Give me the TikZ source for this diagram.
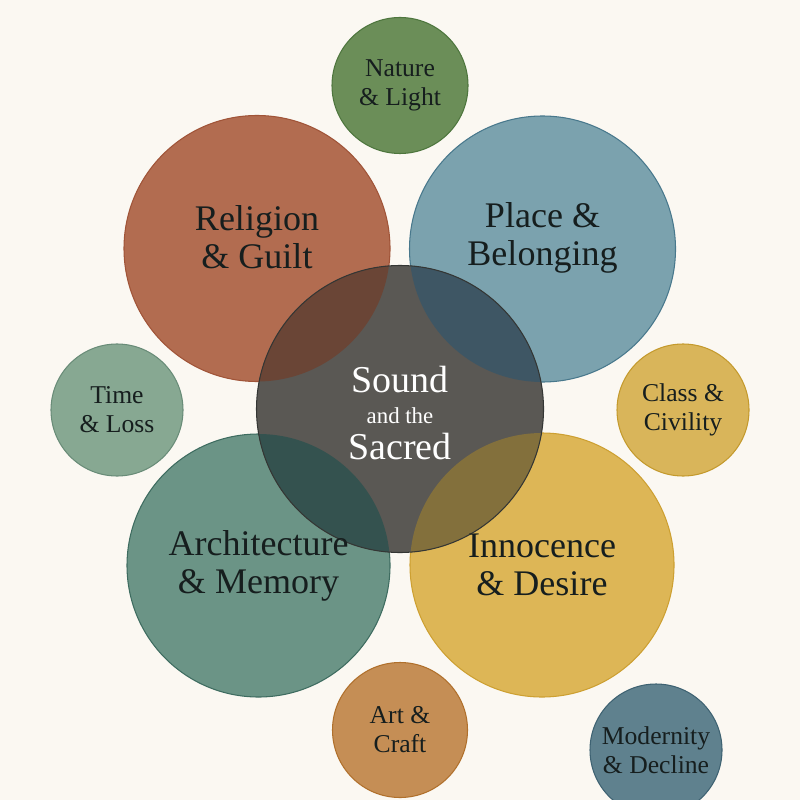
\documentclass[tikz,border=0pt]{standalone}
\usepackage{fontspec}
\setmainfont{Liberation Serif}
\usepackage{tikz}
\usetikzlibrary{positioning}
\definecolor{thmpaper}{RGB}{251,248,242}
\definecolor{thmink}{RGB}{22,30,30}
\definecolor{thmnature}{RGB}{107,142,88}
\definecolor{thmnatureline}{RGB}{78,118,62}
\definecolor{thmreligion}{RGB}{178,108,80}
\definecolor{thmreligionline}{RGB}{160,84,56}
\definecolor{thmplace}{RGB}{123,162,174}
\definecolor{thmplaceline}{RGB}{72,120,140}
\definecolor{thmsound}{RGB}{90,88,84}
\definecolor{thmsoundline}{RGB}{52,54,52}
\definecolor{thmtime}{RGB}{135,168,146}
\definecolor{thmtimeline}{RGB}{105,140,120}
\definecolor{thmclass}{RGB}{217,181,90}
\definecolor{thmclassline}{RGB}{196,154,45}
\definecolor{thmarch}{RGB}{107,148,134}
\definecolor{thmarchline}{RGB}{62,108,96}
\definecolor{thminno}{RGB}{221,182,86}
\definecolor{thminnoline}{RGB}{205,160,50}
\definecolor{thmart}{RGB}{197,142,85}
\definecolor{thmartline}{RGB}{176,112,44}
\definecolor{thmmodern}{RGB}{95,129,142}
\definecolor{thmmodernline}{RGB}{62,98,114}
\definecolor{thmlensrel}{RGB}{106,69,54}
\definecolor{thmlenspla}{RGB}{62,86,100}
\definecolor{thmlensarc}{RGB}{52,82,79}
\definecolor{thmlensinn}{RGB}{131,112,60}
\tikzset{
  bubble/.style={line width=0.6pt},
  lbig/.style={align=center, text=thmink, inner sep=0pt,
    font=\fontsize{20.5}{21.6}\selectfont},
  lsmall/.style={align=center, text=thmink, inner sep=0pt,
    font=\fontsize{14.6}{16.5}\selectfont},
  lcore/.style={align=center, text=white, inner sep=0pt,
    font=\fontsize{21.6}{17.6}\selectfont}
}

\begin{document}
\begin{tikzpicture}[x=0.02cm,y=-0.02cm]
    \useasboundingbox (0,0) rectangle (800,800);
    \clip (0,0) rectangle (800,800);
    \fill[thmpaper] (0,0) rectangle (800,800);

    % bubble centres
    \coordinate (nature) at (400,85.5);
    \coordinate (religion) at (257,248.5);
    \coordinate (place) at (542.5,249);
    \coordinate (sound) at (400,409);
    \coordinate (time) at (117,410);
    \coordinate (class) at (683,410);
    \coordinate (arch) at (258.5,565.5);
    \coordinate (inno) at (542,565);
    \coordinate (art) at (400,730);
    \coordinate (modern) at (656,750);

    % outer bubbles
    \filldraw[bubble,fill=thmnature,draw=thmnatureline] (nature) circle[radius=68];
    \filldraw[bubble,fill=thmtime,draw=thmtimeline] (time) circle[radius=66];
    \filldraw[bubble,fill=thmclass,draw=thmclassline] (class) circle[radius=66];
    \filldraw[bubble,fill=thmart,draw=thmartline] (art) circle[radius=67.5];
    \filldraw[bubble,fill=thmmodern,draw=thmmodernline] (modern) circle[radius=66];
    \filldraw[bubble,fill=thmreligion,draw=thmreligionline] (religion) circle[radius=133];
    \filldraw[bubble,fill=thmplace,draw=thmplaceline] (place) circle[radius=133];
    \filldraw[bubble,fill=thmarch,draw=thmarchline] (arch) circle[radius=131.5];
    \filldraw[bubble,fill=thminno,draw=thminnoline] (inno) circle[radius=132];

    % centre and its overlaps
    \fill[thmsound] (sound) circle[radius=143.5];
    \begin{scope}
      \clip (religion) circle[radius=133];
      \fill[thmlensrel] (sound) circle[radius=143.5];
    \end{scope}
    \begin{scope}
      \clip (place) circle[radius=133];
      \fill[thmlenspla] (sound) circle[radius=143.5];
    \end{scope}
    \begin{scope}
      \clip (arch) circle[radius=131.5];
      \fill[thmlensarc] (sound) circle[radius=143.5];
    \end{scope}
    \begin{scope}
      \clip (inno) circle[radius=132];
      \fill[thmlensinn] (sound) circle[radius=143.5];
    \end{scope}
    \draw[bubble,thmsoundline] (sound) circle[radius=143.5];

    % labels
    \node[lsmall] (nature-label) at (nature) {Nature\\\& Light};
    \node[lbig] (religion-label) at ([yshift=6.2pt]religion) {Religion\\\& Guilt};
    \node[lbig] (place-label) at ([yshift=6.2pt]place) {Place \&\\Belonging};
    \node[lsmall] (time-label) at (time) {Time\\\& Loss};
    \node[lsmall] (class-label) at (class) {Class \&\\Civility};
    \node[lcore] (sound-label) at ([yshift=-2.3pt]sound)
      {Sound\\{\fontsize{13}{15}\selectfont and the}\\[2.9pt]Sacred};
    \node[lbig] (arch-label) at (arch) {Architecture\\\& Memory};
    \node[lbig] (inno-label) at (inno) {Innocence\\\& Desire};
    \node[lsmall] (art-label) at (art) {Art \&\\Craft};
    \node[lsmall] (modern-label) at (modern) {Modernity\\\& Decline};
\end{tikzpicture}
\end{document}
